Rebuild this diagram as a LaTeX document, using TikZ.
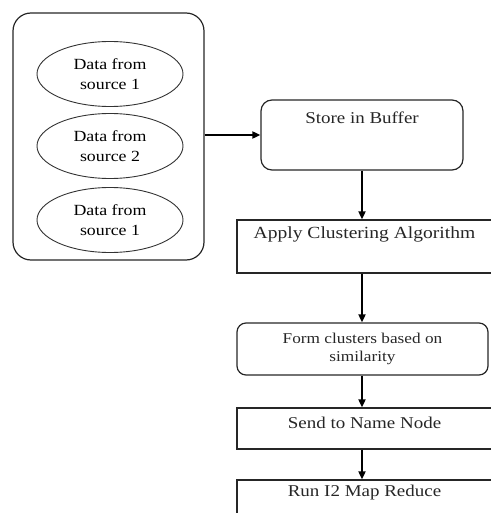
\documentclass[tikz,border=0pt]{standalone}
\usepackage{fontspec}
\setmainfont[FakeStretch=1.15]{Liberation Serif}
\usetikzlibrary{shapes.geometric,arrows.meta}
\begin{document}
\begin{tikzpicture}[x=1pt,y=-1pt,
  line/.style={line width=1.2pt,draw=black!85},
  srcell/.style={ellipse,draw=black!80,line width=0.9pt,minimum width=146pt,minimum height=65pt,inner sep=0pt,align=center,font=\fontsize{15.5}{20}\selectfont},
  roundbox/.style={line,rounded corners=11pt,inner sep=0pt},
  sqbox/.style={line,inner sep=0pt},
  boxtext/.style={font=\fontsize{16.5}{18}\selectfont,text=black!85},
  flow/.style={line width=1.7pt,draw=black,-{Triangle[length=8pt,width=7pt]}}
]
\useasboundingbox (0,0) rectangle (490,513);
% outer container
\node[line,rounded corners=18pt,minimum width=191pt,minimum height=247pt,inner sep=0pt] (outer) at (108.5,136.5) {};
\node[srcell] (s1) at (110,74) {Data from\\source 1};
\node[srcell] (s2) at (110,146) {Data from\\source 2};
\node[srcell] (s3) at (110,220) {Data from\\source 1};
% flow boxes
\node[roundbox,minimum width=202pt,minimum height=70pt,
  label={[boxtext,anchor=center,yshift=-18pt]north:Store in Buffer}] (store) at (362,135) {};
\node[sqbox,minimum width=255pt,minimum height=53pt,
  label={[boxtext,font=\fontsize{17}{18}\selectfont,anchor=center,yshift=-15pt]north:Apply Clustering Algorithm}] (apply) at (364.5,246.5) {};
\node[roundbox,rounded corners=9pt,minimum width=251pt,minimum height=52pt,align=center,
  font=\fontsize{15}{17.5}\selectfont,text=black!85] (form) at (362.5,349) {Form clusters based on\\similarity\vphantom{p}};
\node[sqbox,minimum width=255pt,minimum height=41pt,
  label={[boxtext,anchor=center,yshift=-15pt]north:Send to Name Node}] (send) at (364.5,428.5) {};
\node[sqbox,minimum width=255pt,minimum height=50pt,
  label={[boxtext,anchor=center,yshift=-13pt]north:Run I2 Map Reduce}] (run) at (364.5,505) {};
% connectors
\draw[flow] (outer.east |- store.west) -- (store.west);
\draw[flow] (store.south) -- (store.south |- apply.north);
\draw[flow] (store.south |- apply.south) -- (store.south |- form.north);
\draw[flow] (store.south |- form.south) -- (store.south |- send.north);
\draw[flow] (store.south |- send.south) -- (store.south |- run.north);
\end{tikzpicture}
\end{document}
